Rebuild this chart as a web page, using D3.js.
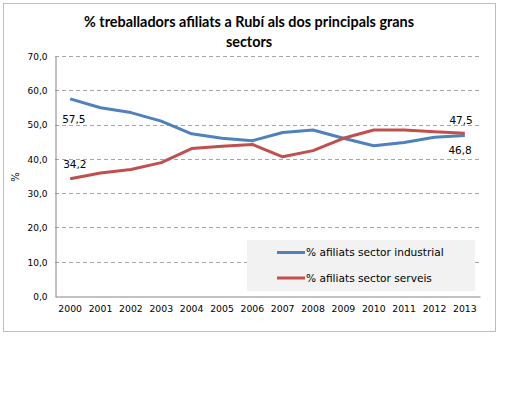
<!DOCTYPE html>
<html><head><meta charset="utf-8">
<script src="https://cdn.jsdelivr.net/npm/d3@7"></script>
<style>body{margin:0;background:#fff}svg{display:block}</style>
</head><body>
<script>
const years = ["2000","2001","2002","2003","2004","2005","2006","2007","2008","2009","2010","2011","2012","2013"];
const industrial = [57.5,54.9,53.5,51.0,47.3,46.0,45.3,47.7,48.4,46.0,43.8,44.8,46.3,46.8];
const serveis = [34.2,35.9,36.9,38.9,43.0,43.7,44.2,40.6,42.4,46.0,48.4,48.4,47.9,47.5];
const seriesNames = ["% afiliats sector industrial","% afiliats sector serveis"];
const yTicks = [0,10,20,30,40,50,60,70];
const titleLines = ["% treballadors afiliats a Rubí als dos principals grans","sectors"];

(function(){
const W=530,H=399;
const svg=d3.select("body").append("svg").attr("width",W).attr("height",H);
svg.append("rect").attr("x",3.5).attr("y",3.5).attr("width",492).attr("height",328)
  .attr("fill","#fff").attr("stroke","#bdbdbd").attr("stroke-width",1);

const pL=55,pR=480,pT=56,pB=296;
const x=d3.scaleBand().domain(years).range([pL,pR]);
const y=d3.scaleLinear().domain([0,70]).range([pB,pT]);
const cx=d=>x(d)+x.bandwidth()/2;
const tf="Tahoma, 'DejaVu Sans', sans-serif";

svg.append("g").selectAll("line").data(yTicks.filter(t=>t>0)).join("line")
  .attr("x1",pL).attr("x2",pR).attr("y1",d=>Math.round(y(d))+0.5).attr("y2",d=>Math.round(y(d))+0.5)
  .attr("stroke","#a6a6a6").attr("stroke-dasharray","4,3").attr("stroke-width",1);

const colors=["#4F81BD","#C0504D"];

const yAxis=d3.axisLeft(y).tickValues(yTicks).tickSize(0).tickPadding(8)
  .tickFormat(d=>d3.format(".1f")(d).replace(".",","));
const gy=svg.append("g").attr("transform",`translate(${pL+0.5},0.5)`).call(yAxis);
gy.select(".domain").attr("stroke","#868686");
gy.selectAll("text").attr("font-family",tf).attr("font-size",9).attr("fill","#000");

const xAxis=d3.axisBottom(x).tickSize(0).tickPadding(9);
const gx=svg.append("g").attr("transform",`translate(0,${pB+0.5})`).call(xAxis);
gx.select(".domain").attr("stroke","#868686");
gx.selectAll("text").attr("font-family",tf).attr("font-size",9.3).attr("fill","#000");

svg.append("rect").attr("x",247).attr("y",240).attr("width",228).attr("height",51).attr("fill","#f2f2f2");

const line=d3.line().x((d,i)=>cx(years[i])).y(d=>y(d));
[industrial,serveis].forEach((s,k)=>{
  svg.append("path").datum(s).attr("d",line).attr("fill","none")
    .attr("stroke",colors[k]).attr("stroke-width",3).attr("stroke-linejoin","round");
});

seriesNames.forEach((n,k)=>{
  const ly=252.5+k*25.5;
  svg.append("line").attr("x1",277).attr("x2",305).attr("y1",ly).attr("y2",ly)
    .attr("stroke",colors[k]).attr("stroke-width",3);
  svg.append("text").attr("x",306).attr("y",ly+3.5).text(n)
    .attr("font-family",tf).attr("font-size",10.6).attr("fill","#000");
});

const fmt=v=>d3.format(".1f")(v).replace(".",",");
const lbl=(txt,xx,yy,anchor)=>svg.append("text").attr("x",xx).attr("y",yy).attr("text-anchor",anchor).text(txt)
  .attr("font-family",tf).attr("font-size",10.5).attr("fill","#000");
lbl(fmt(industrial[0]),cx(years[0])-8,y(industrial[0])+24,"start");
lbl(fmt(serveis[0]),cx(years[0])-7,y(serveis[0])-11,"start");
lbl(fmt(serveis[13]),cx(years[13])+8,y(serveis[13])-9,"end");
lbl(fmt(industrial[13]),cx(years[13])+7,y(industrial[13])+18,"end");

svg.append("text").attr("transform","translate(19,177) rotate(-90)").attr("text-anchor","middle").text("%")
  .attr("font-family",tf).attr("font-size",10).attr("fill","#000");

titleLines.forEach((t,i)=>{
  svg.append("text").attr("x",249).attr("y",27+i*20).attr("text-anchor","middle").text(t)
    .attr("font-family","Lato, 'Open Sans', sans-serif").attr("font-weight","bold").attr("font-size",14.4).attr("fill","#000");
});
})();
</script>
</body></html>
